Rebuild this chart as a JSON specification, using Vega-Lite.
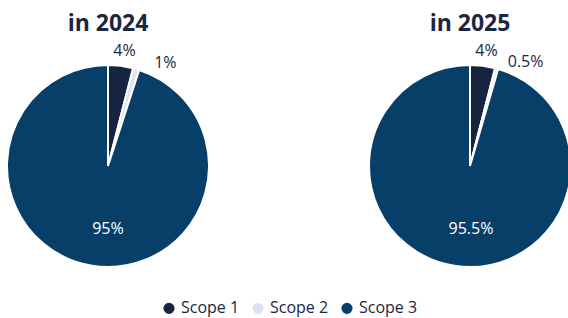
{
  "$schema": "https://vega.github.io/schema/vega-lite/v6.json",
  "padding": {"top": 13, "left": 0, "right": 0, "bottom": 0},
  "background": "white",
  "data": {"values": [
    {"year": "in 2024", "scope": "Scope 1", "value": 4, "label": "4%"},
    {"year": "in 2024", "scope": "Scope 2", "value": 1, "label": "1%"},
    {"year": "in 2024", "scope": "Scope 3", "value": 95, "label": "95%"},
    {"year": "in 2025", "scope": "Scope 1", "value": 4, "label": "4%"},
    {"year": "in 2025", "scope": "Scope 2", "value": 0.5, "label": "0.5%"},
    {"year": "in 2025", "scope": "Scope 3", "value": 95.5, "label": "95.5%"}
  ]},
  "facet": {"column": {"field": "year", "type": "nominal", "header": {"title": null, "labelFontSize": 23, "labelFont": "Open Sans", "labelFontWeight": "bold", "labelColor": "#1b2644", "labelPadding": 6}}},
  "spacing": 146,
  "spec": {
    "width": 216,
    "height": 222,
    "encoding": {
      "theta": {"field": "value", "type": "quantitative", "stack": true},
      "order": {"field": "scope", "type": "nominal", "sort": "ascending"}
    },
    "layer": [
      {
        "mark": {"type": "arc", "outerRadius": 101, "stroke": "white", "strokeWidth": 2},
        "encoding": {
          "color": {"field": "scope", "type": "nominal",
            "scale": {"domain": ["Scope 1", "Scope 2", "Scope 3"], "range": ["#172440", "#dde3f0", "#073f69"]},
            "legend": {"title": null, "orient": "bottom", "direction": "horizontal", "symbolType": "circle", "symbolSize": 160, "labelFontSize": 16, "labelFont": "Open Sans", "labelColor": "#1b2644", "columnPadding": 8, "symbolOpacity": 1, "offset": 3}
          }
        }
      },
      {
        "mark": {"type": "text", "radius": 116, "fontSize": 16, "font": "Open Sans", "color": "#1b2644", "dx": 2},
        "encoding": {"text": {"condition": {"test": "datum.scope === 'Scope 1'", "field": "label"}, "value": ""}}
      },
      {
        "mark": {"type": "text", "radius": 116, "fontSize": 16, "font": "Open Sans", "color": "#1b2644", "dx": 25, "dy": 8},
        "encoding": {"text": {"condition": {"test": "datum.scope === 'Scope 2'", "field": "label"}, "value": ""}}
      },
      {
        "mark": {"type": "text", "radius": 64, "fontSize": 16, "font": "Open Sans", "color": "white", "dx": 10},
        "encoding": {"text": {"condition": {"test": "datum.scope === 'Scope 3'", "field": "label"}, "value": ""}}
      }
    ]
  },
  "config": {"view": {"stroke": null}, "legend": {"layout": {"bottom": {"anchor": "middle"}}}}
}
